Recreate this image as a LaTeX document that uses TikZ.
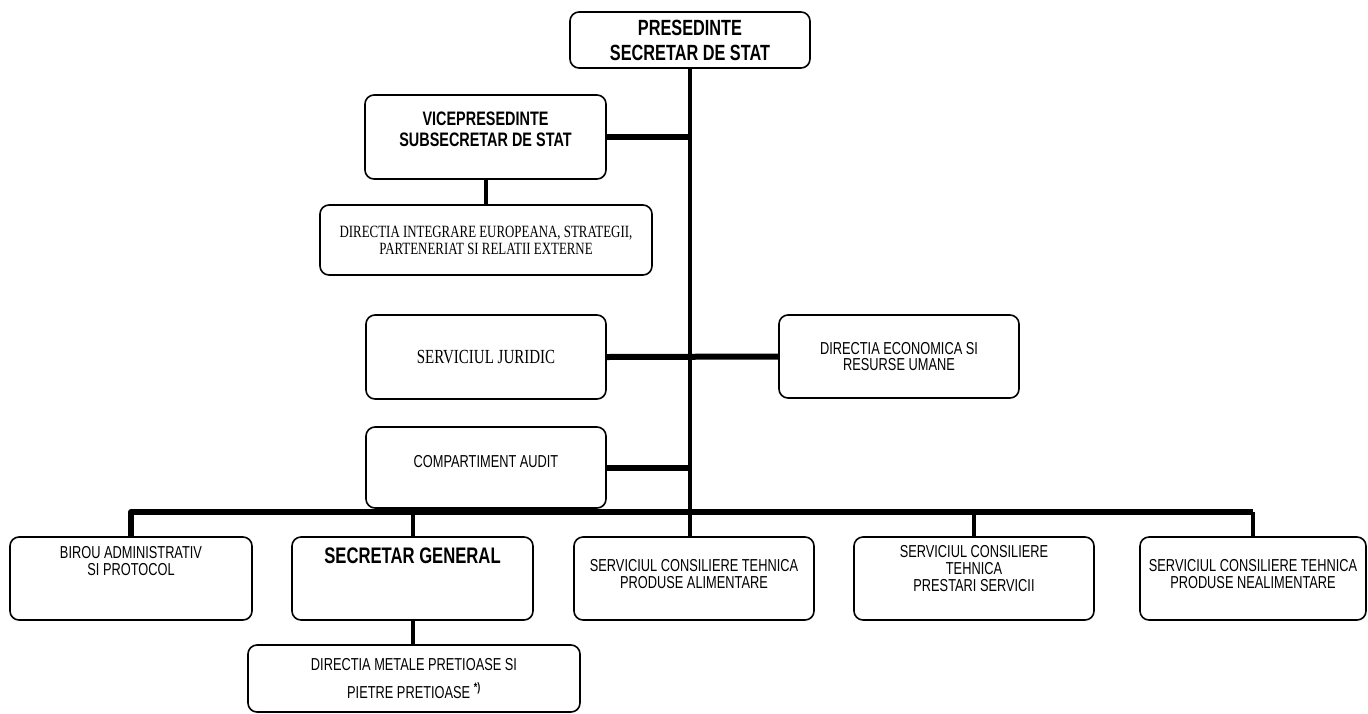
\documentclass[tikz,border=0pt]{standalone}
\usepackage{fontspec}
\setmainfont{Liberation Sans}[FakeStretch=0.74]
\newfontfamily\romfont{Liberation Serif}[FakeStretch=0.75]
\newcommand{\padtext}[2]{\begin{tabular}{@{}c@{}}#2\\[#1]\end{tabular}}
\begin{document}
\begin{tikzpicture}[x=1pt,y=-1pt,line join=round,
		unit/.style={draw,rounded corners=9pt,line width=1.6pt,align=center,inner sep=0pt,
			minimum width=240pt,minimum height=82pt,font=\fontsize{17.3}{16.5}\selectfont},
		wide/.style={unit,minimum width=332pt,minimum height=69pt},
		link/.style={line width=6pt},
		stem/.style={line width=4pt}]
	\useasboundingbox (0,0) rectangle (1368,713);
	\node[unit,minimum height=56pt,font=\fontsize{22}{25}\selectfont\bfseries] (pres) at (690,40) {PRESEDINTE\\SECRETAR DE STAT};
	\node[unit,minimum width=241pt,minimum height=84pt,font=\fontsize{19.5}{20.5}\selectfont\bfseries] (vice) at (485.5,137) {\padtext{10pt}{VICEPRESEDINTE\\SUBSECRETAR DE STAT}};
	\node[wide,minimum height=70pt,font=\romfont\fontsize{17.2}{17}\selectfont] (integr) at (486,240) {DIRECTIA INTEGRARE EUROPEANA, STRATEGII,\\PARTENERIAT SI RELATII EXTERNE};
	\node[unit,minimum height=84pt,font=\romfont\fontsize{20}{20}\selectfont] (jurid) at (486,357) {SERVICIUL JURIDIC};
	\node[unit,minimum height=83pt] (econ) at (899,356.5) {DIRECTIA ECONOMICA SI\\RESURSE UMANE};
	\node[unit,minimum height=81pt] (audit) at (486,467.5) {\padtext{8pt}{COMPARTIMENT AUDIT}};
	\node[unit,minimum width=242pt,minimum height=83pt] (birou) at (131,578.5) {\padtext{30pt}{BIROU ADMINISTRATIV\\SI PROTOCOL}};
	\node[unit,minimum width=241pt,minimum height=83pt,font=\fontsize{22.5}{24}\selectfont\bfseries] (secgen) at (412.5,578.5) {\padtext{40pt}{SECRETAR GENERAL}};
	\node[unit,minimum height=83pt] (alim) at (694,578.5) {\padtext{4pt}{SERVICIUL CONSILIERE TEHNICA\\PRODUSE ALIMENTARE}};
	\node[unit,minimum height=83pt] (prest) at (974,578.5) {\padtext{16pt}{SERVICIUL CONSILIERE\\TEHNICA\\PRESTARI SERVICII}};
	\node[unit,minimum width=226pt,minimum height=83pt] (nealim) at (1253,578.5) {\padtext{4pt}{SERVICIUL CONSILIERE TEHNICA\\PRODUSE NEALIMENTARE}};
	\node[wide,minimum height=67pt] (metale) at (414,678.5) {DIRECTIA METALE PRETIOASE SI\\[11pt]PIETRE PRETIOASE \textsuperscript{\textbf{*)}}};
	\coordinate (bar) at (0,512);
	\draw[stem] (pres.south) -- (pres.south |- alim.north);
	\draw[link] (vice.east) -- (vice.east -| pres.south);
	\draw[stem] (vice.south) -- (vice.south |- integr.north);
	\draw[link] (jurid.east) -- (econ.west);
	\draw[link] (audit.east) -- (audit.east -| pres.south);
	\draw[link] (birou.north) -- (birou.north |- bar) -- (nealim.north |- bar);
	\draw[stem] (nealim.north |- bar) -- (nealim.north);
	\draw[stem] (secgen.north) -- (secgen.north |- bar);
	\draw[stem] (prest.north) -- (prest.north |- bar);
	\draw[stem] (secgen.south) -- (secgen.south |- metale.north);
\end{tikzpicture}
\end{document}
